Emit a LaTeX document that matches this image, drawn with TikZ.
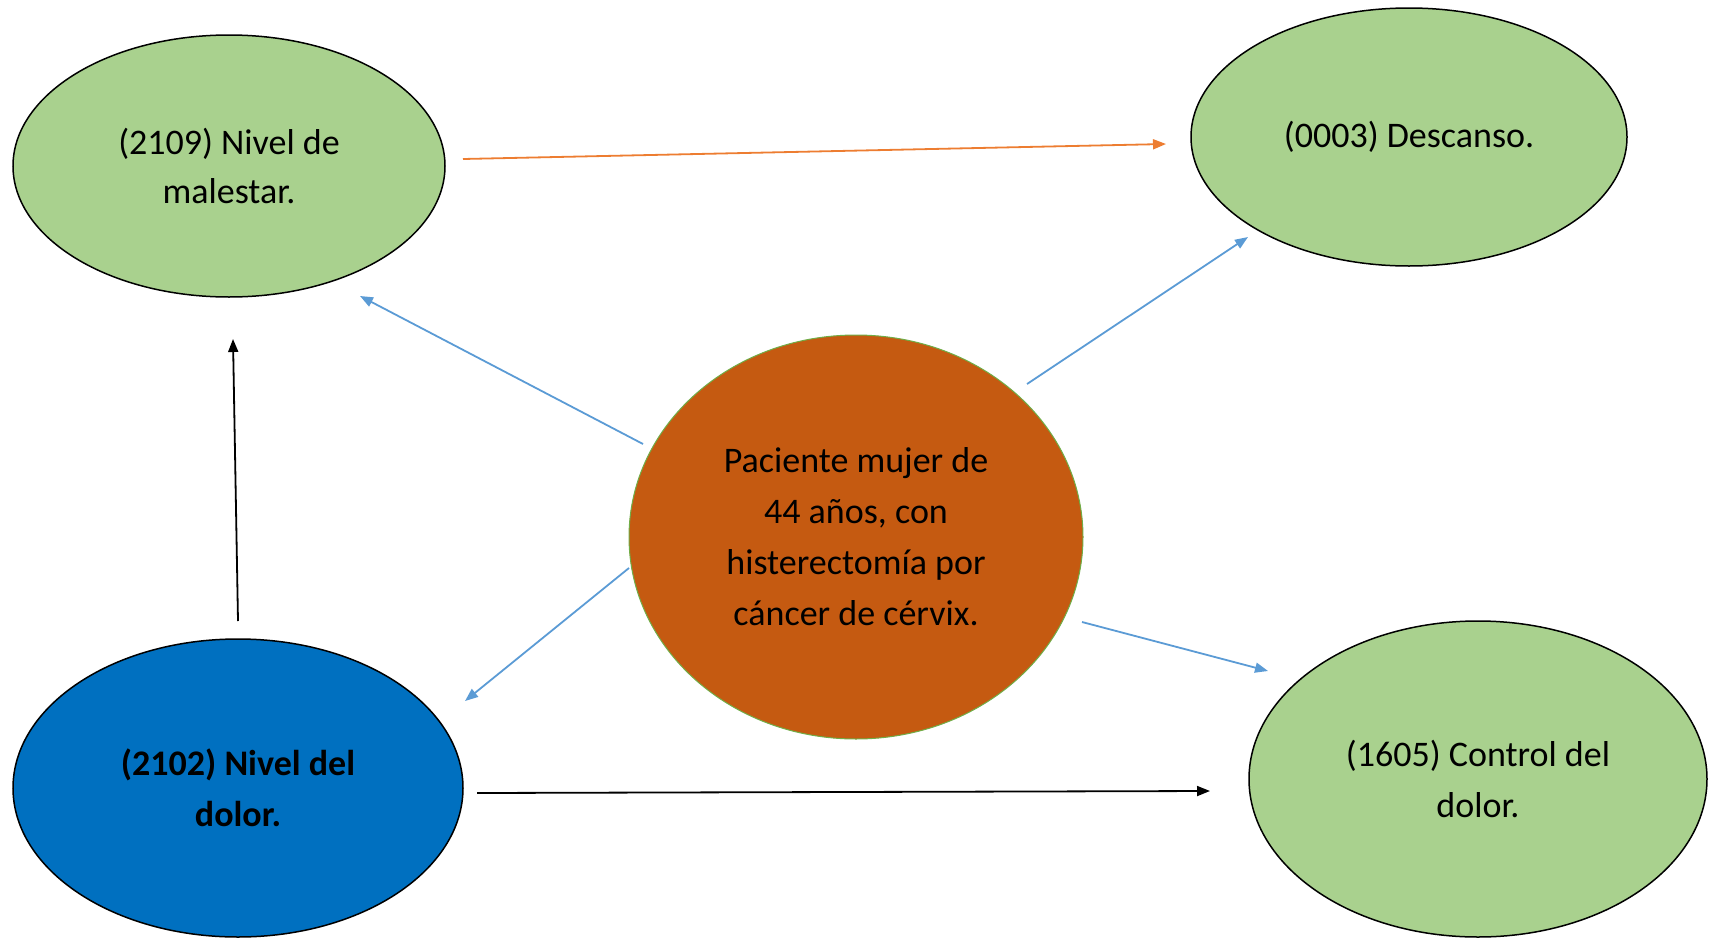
\documentclass[tikz,border=0pt]{standalone}
\usepackage{fontspec}
\setmainfont{Carlito}
\usetikzlibrary{arrows.meta,shapes.geometric}
\definecolor{lgreen}{HTML}{A9D18E}
\definecolor{dorange}{HTML}{C55A11}
\definecolor{mblue}{HTML}{0070C0}
\definecolor{aorange}{HTML}{ED7D31}
\definecolor{ablue}{HTML}{5B9BD5}
\definecolor{cborder}{HTML}{70AD47}
\tikzset{
  oval/.style={ellipse, draw=black, line width=1.5pt, fill=lgreen, align=center, inner sep=0pt,
    font=\fontsize{36}{51}\selectfont, text=black},
  arr/.style={line width=1.8pt, -{Triangle[length=13pt,width=10pt]}},
}
\begin{document}
\begin{tikzpicture}[x=1pt,y=-1pt]
\useasboundingbox (0,0) rectangle (1709,940);
\node[oval, minimum width=432pt, minimum height=262pt] (tl) at (229,166) {(2109) Nivel de\\[-2pt]malestar.};
\node[oval, minimum width=436pt, minimum height=258pt] (tr) at (1409,137) {(0003) Descanso.};
\node[oval, draw=cborder, line width=1pt, fill=dorange, minimum width=454pt, minimum height=404pt] (c) at (856,537) {Paciente mujer de\\44 años, con\\histerectomía por\\cáncer de cérvix.};
\node[oval, fill=mblue, minimum width=450pt, minimum height=298pt, font=\fontsize{36}{51}\selectfont\bfseries] (bl) at (238,788) {(2102) Nivel del\\dolor.};
\node[oval, minimum width=458pt, minimum height=316pt] (br) at (1478,779) {(1605) Control del\\dolor.};

\coordinate (o1) at (463,159); \coordinate (o2) at (1166,144);
\coordinate (b1s) at (643,444); \coordinate (b1e) at (360,296);
\coordinate (b2s) at (1027,384); \coordinate (b2e) at (1248,237);
\coordinate (b3s) at (629,568); \coordinate (b3e) at (465,701);
\coordinate (b4s) at (1082,622); \coordinate (b4e) at (1268,671);
\coordinate (k1s) at (238,621); \coordinate (k1e) at (233,339);
\coordinate (k2s) at (477,793); \coordinate (k2e) at (1210,791);

\draw[arr, aorange] (o1) -- (o2);
\draw[arr, ablue] (b1s) -- (b1e);
\draw[arr, ablue] (b2s) -- (b2e);
\draw[arr, ablue] (b3s) -- (b3e);
\draw[arr, ablue] (b4s) -- (b4e);
\draw[arr, black] (k1s) -- (k1e);
\draw[arr, black] (k2s) -- (k2e);
\end{tikzpicture}
\end{document}
